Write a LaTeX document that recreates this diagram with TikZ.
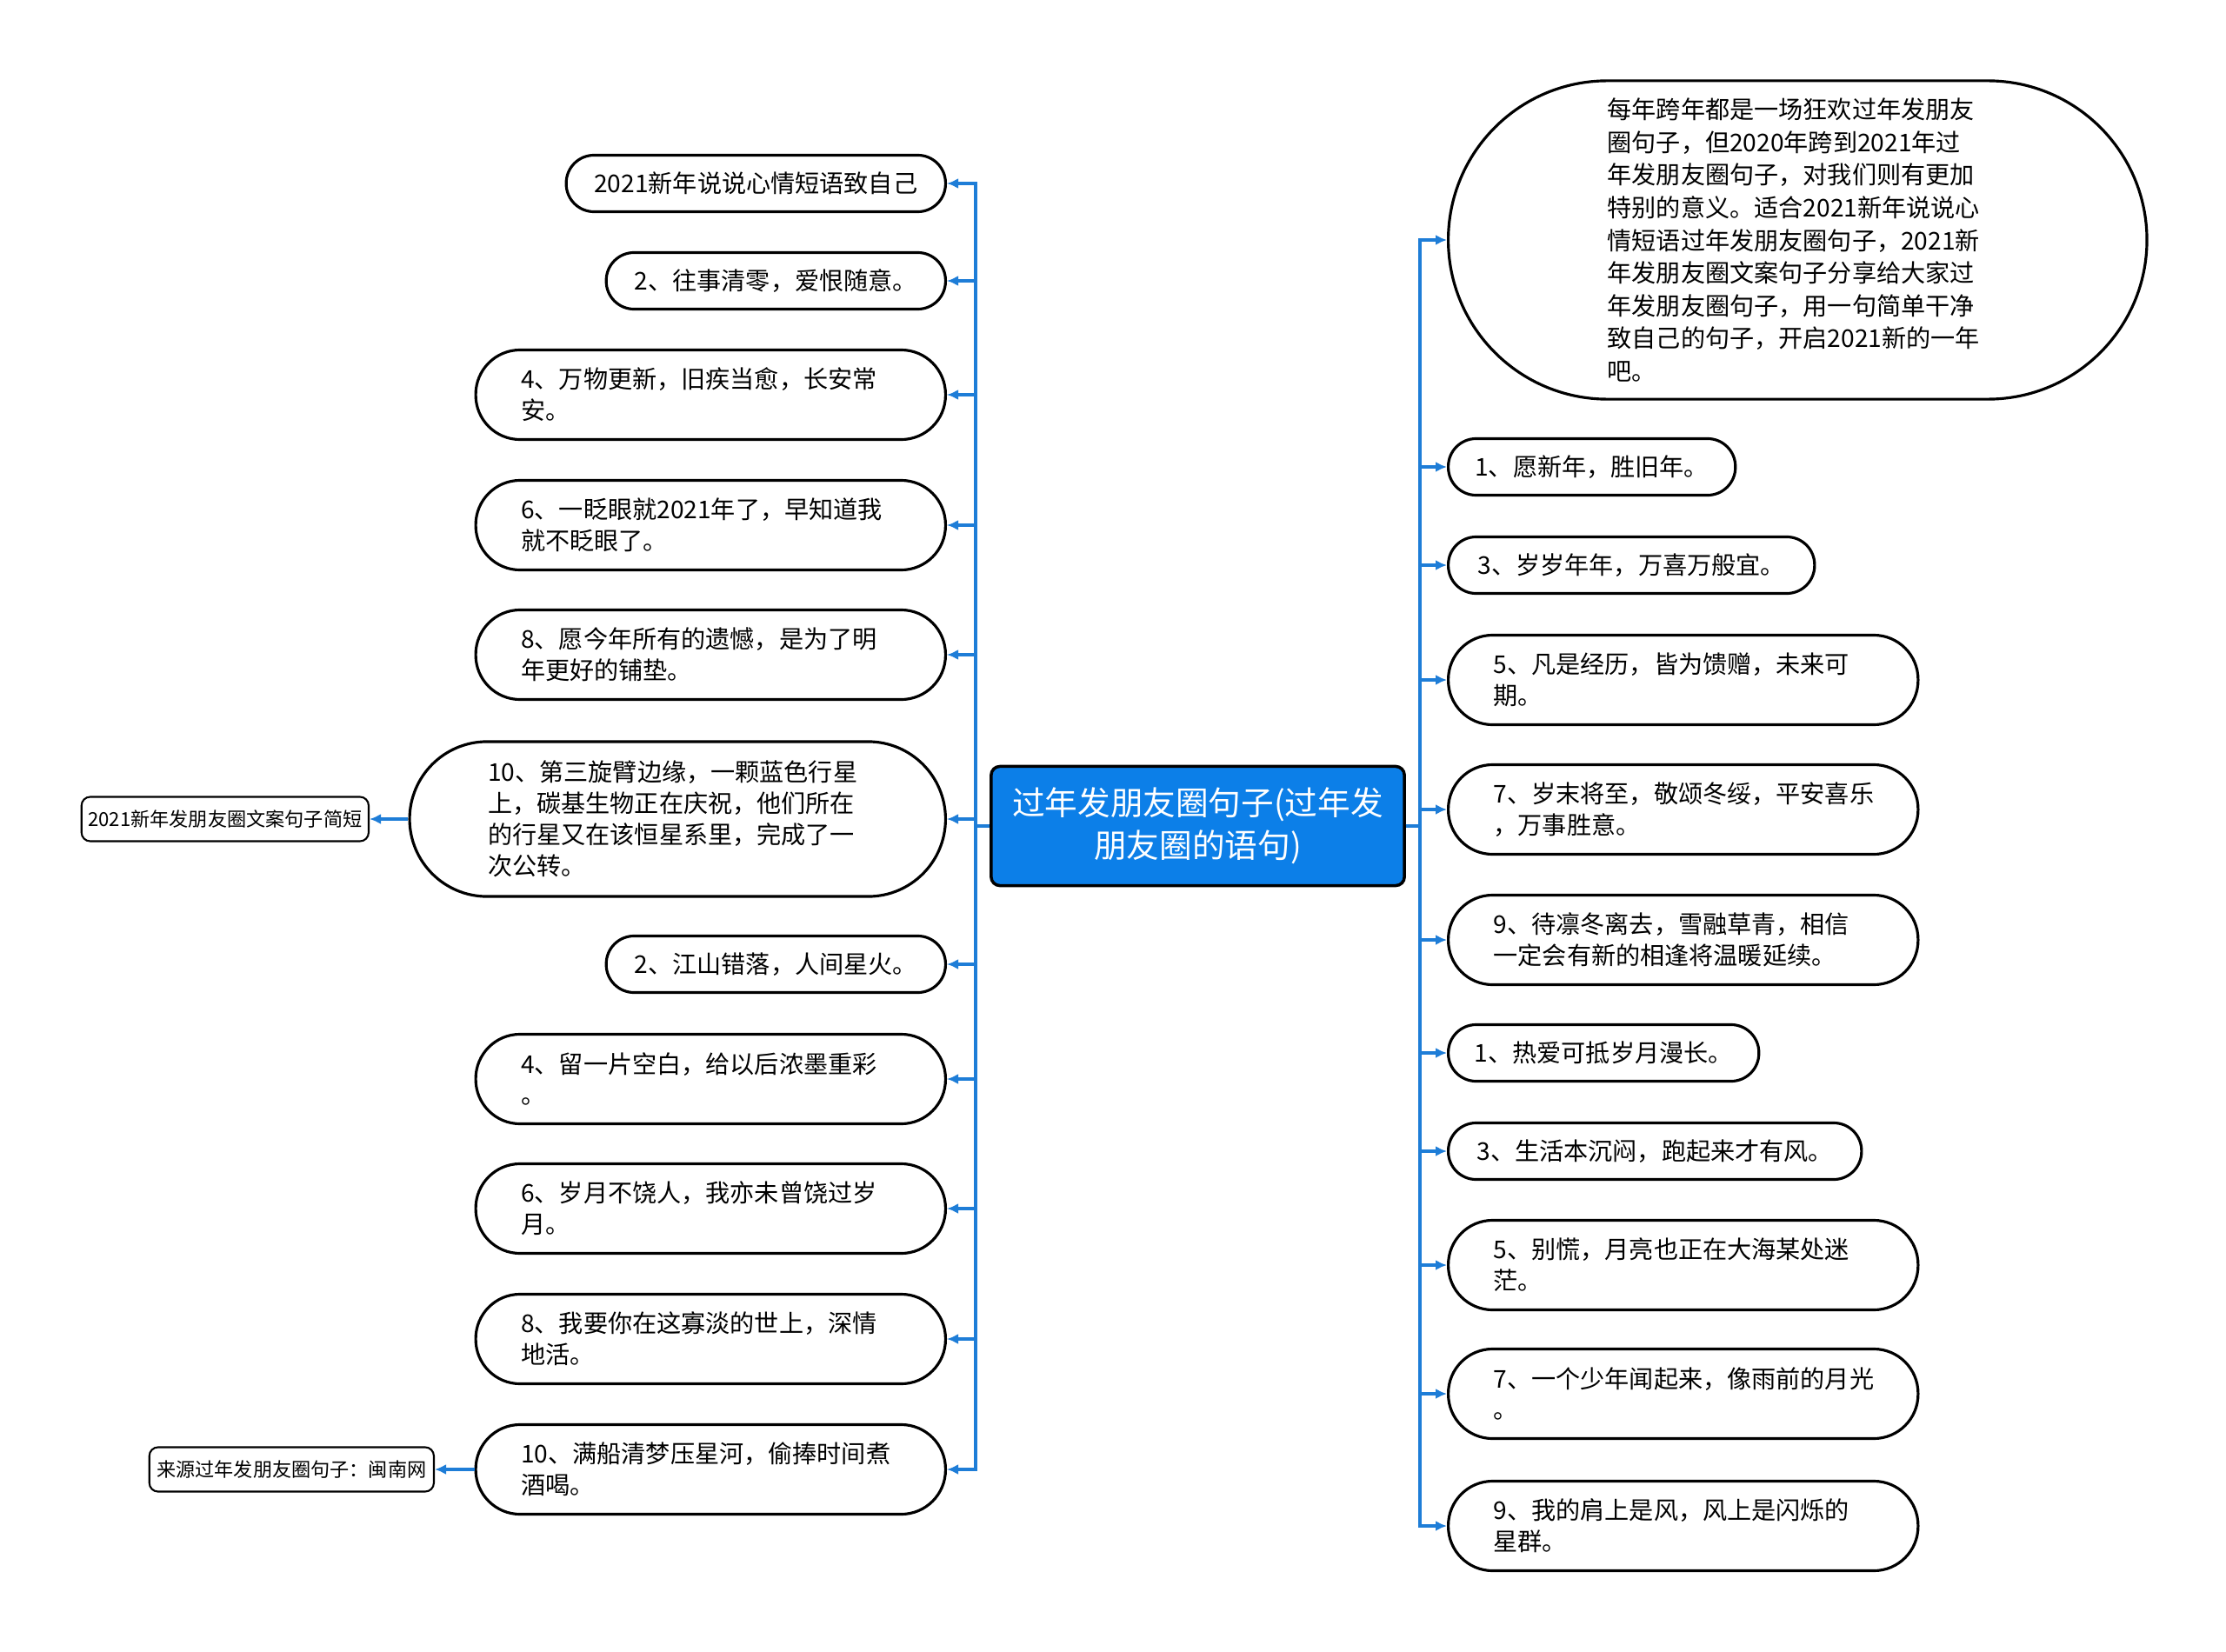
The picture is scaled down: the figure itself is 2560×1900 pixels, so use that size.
\documentclass[tikz,border=0pt]{standalone}
\usepackage{fontspec}
\setmainfont{Noto Sans CJK SC}
\usetikzlibrary{arrows.meta}
\definecolor{conncol}{RGB}{30,125,215}
\definecolor{cfill}{RGB}{12,127,232}
\begin{document}
\begin{tikzpicture}[x=0.01cm,y=-0.01cm,
  conn/.style={draw=conncol, line width=0.9pt, -{Latex[length=1.3mm,width=1.2mm]}},
  base/.style={draw=black, line width=0.9pt, text=black, inner ysep=0pt},
  one/.style={base, rounded corners=0.32cm, minimum height=0.65cm, inner xsep=0pt, font=\fontsize{8}{10.2}\selectfont},
  two/.style={base, rounded corners=0.51cm, minimum height=1.03cm, inner xsep=0.52cm, text width=4.36cm, align=left, font=\fontsize{8}{10.2}\selectfont},
  four/.style={base, rounded corners=0.89cm, minimum height=1.78cm, inner xsep=0.9cm, text width=4.36cm, align=left, font=\fontsize{8}{10.2}\selectfont},
  big/.style={base, rounded corners=1.83cm, minimum height=3.66cm, inner xsep=1.83cm, text width=4.37cm, align=left, font=\fontsize{8}{10.7}\selectfont},
  child/.style={base, line width=0.6pt, rounded corners=0.1cm, minimum height=0.51cm, inner xsep=0pt, font=\fontsize{6.3}{8}\selectfont},
  center/.style={draw=black, line width=1pt, fill=cfill, rounded corners=0.1cm, text=white, minimum width=4.75cm, minimum height=1.37cm, inner xsep=0pt, inner ysep=0pt, align=center, font=\fontsize{10.7}{14}\selectfont}
]
\path[use as bounding box] (0,0) rectangle (2560,1900);

% central node
\node[center] (C) at (1377.5,950) {过年发朋友圈句子(过年发\\朋友圈的语句)};
\coordinate (jl) at (1122,950);
\coordinate (jr) at (1633,950);

% left branch
\node[one, minimum width=4.36cm, anchor=east] (L1) at (1089,211) {2021新年说说心情短语致自己};
\node[one, minimum width=3.90cm, anchor=east] (L2) at (1089,323) {2、往事清零，爱恨随意。};
\node[two, anchor=east] (L3) at (1089,454) {4、万物更新，旧疾当愈，长安常\\安。};
\node[two, anchor=east] (L4) at (1089,604) {6、一眨眼就2021年了，早知道我\\就不眨眼了。};
\node[two, anchor=east] (L5) at (1089,753) {8、愿今年所有的遗憾，是为了明\\年更好的铺垫。};
\node[four, anchor=east] (L6) at (1089,942) {10、第三旋臂边缘，一颗蓝色行星\\上，碳基生物正在庆祝，他们所在\\的行星又在该恒星系里，完成了一\\次公转。};
\node[child, minimum width=3.30cm, anchor=east] (L6c) at (425,942) {2021新年发朋友圈文案句子简短};
\node[one, minimum width=3.90cm, anchor=east] (L7) at (1089,1109) {2、江山错落，人间星火。};
\node[two, anchor=east] (L8) at (1089,1241) {4、留一片空白，给以后浓墨重彩\\。};
\node[two, anchor=east] (L9) at (1089,1390) {6、岁月不饶人，我亦未曾饶过岁\\月。};
\node[two, anchor=east] (L10) at (1089,1540) {8、我要你在这寡淡的世上，深情\\地活。};
\node[two, anchor=east] (L11) at (1089,1690) {10、满船清梦压星河，偷捧时间煮\\酒喝。};
\node[child, minimum width=3.27cm, anchor=east] (L11c) at (500,1690) {来源过年发朋友圈句子：闽南网};

% right branch
\node[big, anchor=west] (R0) at (1664,276) {每年跨年都是一场狂欢过年发朋友\\圈句子，但2020年跨到2021年过\\年发朋友圈句子，对我们则有更加\\特别的意义。适合2021新年说说心\\情短语过年发朋友圈句子，2021新\\年发朋友圈文案句子分享给大家过\\年发朋友圈句子，用一句简单干净\\致自己的句子，开启2021新的一年\\吧。};
\node[one, minimum width=3.30cm, anchor=west] (R1) at (1664,537) {1、愿新年，胜旧年。};
\node[one, minimum width=4.21cm, anchor=west] (R2) at (1664,650) {3、岁岁年年，万喜万般宜。};
\node[two, anchor=west] (R3) at (1664,782) {5、凡是经历，皆为馈赠，未来可\\期。};
\node[two, anchor=west] (R4) at (1664,931) {7、岁末将至，敬颂冬绥，平安喜乐\\，万事胜意。};
\node[two, anchor=west] (R5) at (1664,1081) {9、待凛冬离去，雪融草青，相信\\一定会有新的相逢将温暖延续。};
\node[one, minimum width=3.57cm, anchor=west] (R6) at (1664,1211) {1、热爱可抵岁月漫长。};
\node[one, minimum width=4.75cm, anchor=west] (R7) at (1664,1324) {3、生活本沉闷，跑起来才有风。};
\node[two, anchor=west] (R8) at (1664,1455) {5、别慌，月亮也正在大海某处迷\\茫。};
\node[two, anchor=west] (R9) at (1664,1603) {7、一个少年闻起来，像雨前的月光\\。};
\node[two, anchor=west] (R10) at (1664,1755) {9、我的肩上是风，风上是闪烁的\\星群。};

% connectors
\foreach \n in {L1,L2,L3,L4,L5,L6,L7,L8,L9,L10,L11}
  \draw[conn] (C.west) -- (jl) |- (\n.east);
\foreach \n in {R0,R1,R2,R3,R4,R5,R6,R7,R8,R9,R10}
  \draw[conn] (C.east) -- (jr) |- (\n.west);
\draw[conn] (L6.west) -- (L6c.east);
\draw[conn] (L11.west) -- (L11c.east);
\end{tikzpicture}
\end{document}
